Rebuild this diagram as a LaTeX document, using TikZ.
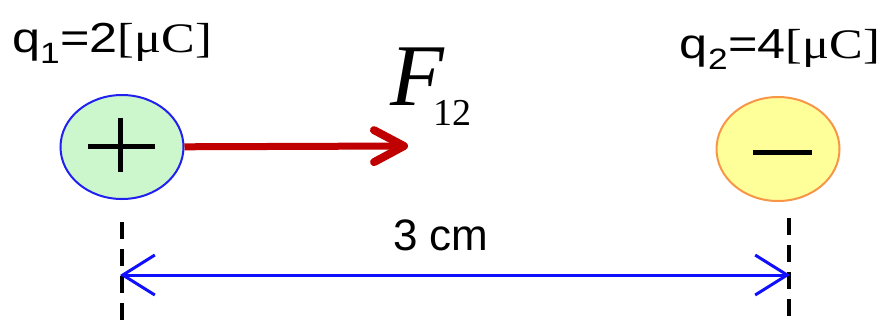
\documentclass[tikz,border=0pt]{standalone}
\usepackage{fontspec}
\setmainfont{Liberation Serif}
\setsansfont{Liberation Sans}
\newfontfamily\widesans[FakeStretch=1.2]{Liberation Sans}
\newfontfamily\wideserif[FakeStretch=1.2]{Liberation Serif}
\usetikzlibrary{arrows.meta,positioning,shapes.geometric,calc}
\definecolor{ForceRed}{HTML}{C00000}
\definecolor{PosGreen}{HTML}{CCF7CC}
\definecolor{PosBlue}{HTML}{2020F0}
\definecolor{NegYellow}{HTML}{FFFF99}
\definecolor{NegOrange}{HTML}{F79646}
\definecolor{DimBlue}{HTML}{1010FF}

\begin{document}
\begin{tikzpicture}[x=1pt, y=-1pt,
  charge/.style={ellipse, line width=2pt, inner sep=0pt, minimum width=123pt, minimum height=104pt},
  lbl/.style={font=\widesans\fontsize{42}{42}\selectfont, inner sep=0pt},
  sign/.style={line width=5pt},
  force/.style={-{Straight Barb[length=30pt,width=32pt,line width=8pt,round]}, line width=7pt, ForceRed},
  dim/.style={{Straight Barb[length=32pt,width=40pt]}-{Straight Barb[length=32pt,width=40pt]}, line width=3pt, DimBlue},
  guide/.style={dash pattern=on 17pt off 10pt, line width=4pt}
]
\useasboundingbox (0,0) rectangle (885,325);
\node[charge, fill=PosGreen, draw=PosBlue] (q1) at (122,147) {};
\node[charge, fill=NegYellow, draw=NegOrange] (q2) at (778,149) {};
\node[lbl, anchor=base west] (q1lbl) at (12,52) {q\textsubscript{1}=2{\wideserif[μC]}};
\node[lbl, anchor=base east] (q2lbl) at (880,58) {q\textsubscript{2}=4{\wideserif[μC]}};
\node[lbl, anchor=base, font=\sffamily\fontsize{44}{44}\selectfont] (dist) at (441,250) {3 cm};
\node[anchor=base west, inner sep=0pt] (F12) at (390,105)
  {\fontsize{88}{88}\selectfont\itshape F\kern-10pt\raisebox{-20pt}{\fontsize{38}{38}\selectfont\upshape 12}};
\draw[sign] ($(q1)+(-34,-1)$) -- ($(q1)+(33,-1)$);
\draw[sign] ($(q1)+(-2,-29)$) -- ($(q1)+(-2,25)$);
\draw[sign] ($(q2)+(-25,3)$) -- ($(q2)+(34,3)$);
\coordinate (tip) at (408,146);
\draw[force] (q1) -- (tip);
\coordinate (g1top) at (122,222);
\coordinate (g1bot) at (122,325);
\coordinate (g2top) at (789,218);
\coordinate (g2bot) at (789,325);
\draw[guide] (g1top) -- (g1bot);
\draw[guide] (g2top) -- (g2bot);
\coordinate (d1) at (120,275);
\coordinate (d2) at (790,275);
\draw[dim] (d1) -- (d2);
\end{tikzpicture}
\end{document}
